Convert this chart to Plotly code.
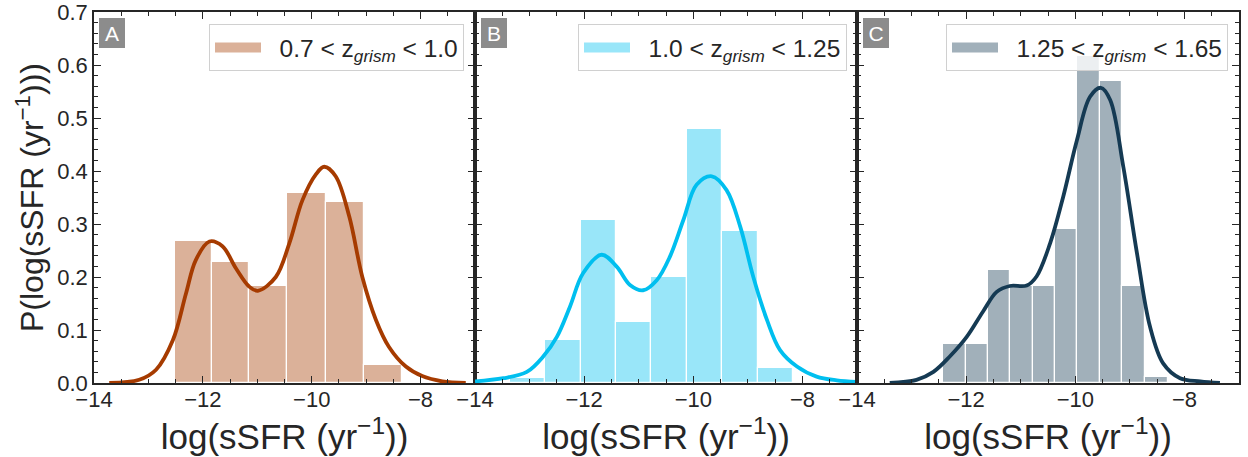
import plotly.graph_objects as go

# ---------------- data ----------------
# Panel A : 0.7 < z < 1.0
edges_A = [-12.52, -11.84, -11.15, -10.45, -9.73, -9.04, -8.34]
hist_A = [0.267, 0.229, 0.183, 0.359, 0.341, 0.034]
kde_x_A = [-13.72, -13.17, -12.86, -12.55, -12.31, -12.13, -11.88, -11.64, -11.39, -11.15,
           -10.99, -10.66, -10.41, -10.17, -9.92, -9.77, -9.56, -9.31, -9.07, -8.82,
           -8.58, -8.27, -7.97, -7.60, -7.17]
kde_y_A = [0.000, 0.006, 0.025, 0.081, 0.169, 0.232, 0.267, 0.258, 0.216, 0.182,
           0.174, 0.200, 0.264, 0.345, 0.394, 0.408, 0.390, 0.314, 0.200, 0.119,
           0.068, 0.031, 0.013, 0.003, 0.000]

# Panel B : 1.0 < z < 1.25
edges_B = [-13.36, -12.71, -12.06, -11.42, -10.77, -10.12, -9.47, -8.82, -8.18]
hist_B = [0.009, 0.082, 0.308, 0.115, 0.200, 0.479, 0.286, 0.029]
kde_x_B = [-14.00, -13.48, -13.05, -12.75, -12.50, -12.26, -12.02, -11.68, -11.40, -11.16,
           -10.92, -10.67, -10.43, -10.18, -9.94, -9.66, -9.39, -9.14, -8.90, -8.65,
           -8.41, -8.10, -7.74, -7.37, -7.00]
kde_y_B = [0.003, 0.009, 0.021, 0.050, 0.087, 0.144, 0.207, 0.242, 0.219, 0.185,
           0.175, 0.194, 0.238, 0.308, 0.374, 0.390, 0.364, 0.295, 0.200, 0.119,
           0.062, 0.031, 0.012, 0.005, 0.002]

# Panel C : 1.25 < z < 1.65
edges_C = [-12.42, -12.01, -11.60, -11.19, -10.78, -10.37, -9.96, -9.55, -9.14, -8.73, -8.31]
hist_C = [0.074, 0.074, 0.213, 0.183, 0.183, 0.291, 0.617, 0.570, 0.183, 0.012]
kde_x_C = [-13.40, -12.91, -12.60, -12.30, -11.99, -11.69, -11.44, -11.20, -10.89, -10.71,
           -10.46, -10.22, -9.97, -9.73, -9.53, -9.36, -9.12, -8.87, -8.63, -8.39,
           -8.08, -7.71, -7.35]
kde_y_C = [0.000, 0.006, 0.021, 0.050, 0.087, 0.135, 0.172, 0.183, 0.184, 0.201,
           0.264, 0.352, 0.458, 0.540, 0.557, 0.534, 0.408, 0.245, 0.106, 0.037,
           0.009, 0.003, 0.000]

labels = ["&nbsp;&nbsp;0.7 &lt; z<sub><i>grism</i></sub> &lt; 1.0",
          "&nbsp;&nbsp;1.0 &lt; z<sub><i>grism</i></sub> &lt; 1.25",
          "&nbsp;&nbsp;1.25 &lt; z<sub><i>grism</i></sub> &lt; 1.65"]
panel_letters = ["A", "B", "C"]
line_colors = ["#a63b00", "#00bfef", "#153a53"]
bar_colors = ["#dbb199", "#99e6f9", "#a1b0ba"]

# ---------------- figure ----------------
FONT = "Liberation Sans, Arial, Helvetica, sans-serif"
INK = "#262626"
W, H = 1248, 457
ML, MT = 94, 12
MB = H - 383
MR = W - 1239
pw = W - ML - MR
ph = H - MT - MB
bounds = [94, 475, 857, 1239]
domains = [[(bounds[i] - ML) / pw, (bounds[i + 1] - ML) / pw] for i in range(3)]
domains[2][1] = 1.0


def px_x(x):  # pixel -> paper
    return (x - ML) / pw


def px_y(y):
    return 1 - (y - MT) / ph


fig = go.Figure()
panels = [(edges_A, hist_A, kde_x_A, kde_y_A),
          (edges_B, hist_B, kde_x_B, kde_y_B),
          (edges_C, hist_C, kde_x_C, kde_y_C)]

for i, (edges, hist, kx, ky) in enumerate(panels):
    xa = "x" if i == 0 else f"x{i+1}"
    ya = "y" if i == 0 else f"y{i+1}"
    lg = "legend" if i == 0 else f"legend{i+1}"
    centers = [(edges[k] + edges[k + 1]) / 2 for k in range(len(hist))]
    widths = [edges[k + 1] - edges[k] for k in range(len(hist))]
    fig.add_trace(go.Bar(x=centers, y=hist, width=widths, xaxis=xa, yaxis=ya,
                         marker=dict(color=bar_colors[i], line=dict(color="white", width=1.2)),
                         showlegend=False, hoverinfo="skip"))
    fig.add_trace(go.Scatter(x=kx, y=ky, xaxis=xa, yaxis=ya, mode="lines",
                             line=dict(color=line_colors[i], width=3.8, shape="spline", smoothing=1.0),
                             showlegend=False, hoverinfo="skip"))
    # legend entry (wide swatch like the reference)
    fig.add_trace(go.Scatter(x=[None], y=[None], xaxis=xa, yaxis=ya, mode="lines",
                             line=dict(color=bar_colors[i], width=15),
                             name=labels[i], legend=lg, showlegend=True))

axis_common = dict(showline=True, linecolor=INK, linewidth=1.5, mirror="allticks",
                   ticks="inside", tickcolor=INK, tickwidth=1.3, ticklen=7,
                   showgrid=False, zeroline=False, automargin=False,
                   ticklabeloverflow="allow",
                   tickfont=dict(family=FONT, size=22, color=INK))

xtitle = "log(sSFR (yr<sup>−1</sup>))"
layout = dict(width=W, height=H, margin=dict(l=ML, r=MR, t=MT, b=MB, autoexpand=False),
              paper_bgcolor="white", plot_bgcolor="white",
              font=dict(family=FONT, color=INK), bargap=0)

for i in range(3):
    xk = "xaxis" if i == 0 else f"xaxis{i+1}"
    yk = "yaxis" if i == 0 else f"yaxis{i+1}"
    layout[xk] = dict(axis_common, domain=domains[i], range=[-14, -7], anchor="y" if i == 0 else f"y{i+1}",
                      tick0=-14, dtick=2, ticklabelstandoff=-4,
                      minor=dict(ticks="inside", dtick=0.5, tick0=-14, ticklen=4, tickcolor=INK, tickwidth=1.1),
                      title=dict(text=xtitle, font=dict(family=FONT, size=35, color=INK), standoff=0))
    layout[yk] = dict(axis_common, range=[0, 0.70001], anchor="x" if i == 0 else f"x{i+1}",
                      tick0=0, dtick=0.1, tickformat=".1f",
                      minor=dict(ticks="inside", dtick=0.02, tick0=0, ticklen=4, tickcolor=INK, tickwidth=1.1),
                      showticklabels=(i == 0))
    if i == 0:
        layout[yk]["title"] = dict(text="P(log(sSFR (yr<sup>−1</sup>)))",
                                   font=dict(family=FONT, size=32, color=INK), standoff=4)
    else:
        layout[yk]["matches"] = "y"

legend_right = [464, 847, 1228]
for i in range(3):
    lk = "legend" if i == 0 else f"legend{i+1}"
    layout[lk] = dict(x=px_x(legend_right[i]), xanchor="right",
                      y=px_y(24), yanchor="top",
                      bgcolor="rgba(255,255,255,0.8)", bordercolor="#d0d0d0", borderwidth=1,
                      font=dict(family=FONT, size=24.5, color=INK), itemwidth=46)

fig.update_layout(**layout)

letter_left = [99, 481, 863]
for i in range(3):
    fig.add_annotation(xref="paper", yref="paper", x=px_x(letter_left[i]), y=px_y(18),
                       xanchor="left", yanchor="top", text=panel_letters[i], showarrow=False,
                       font=dict(family=FONT, size=21, color="white"), bgcolor="#8c8c8c",
                       borderwidth=0, borderpad=2, width=22, height=26)

# the page body has a default 8px margin; remove it so the figure sits at the window's corner
fig.write_html("out.html", config={"displayModeBar": False},
               post_script="document.body.style.margin='0px';")
